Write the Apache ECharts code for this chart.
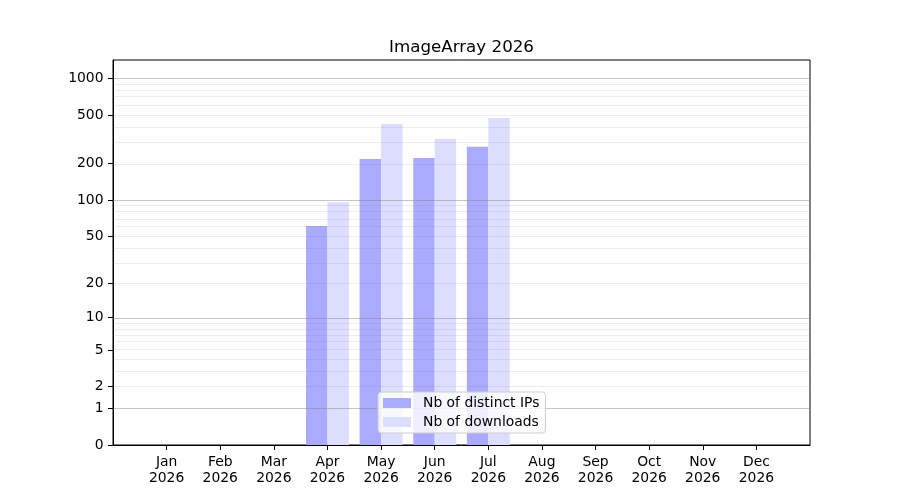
<!DOCTYPE html>
<html>
<head>
<meta charset="utf-8">
<script src="https://cdn.jsdelivr.net/npm/echarts@6/dist/echarts.min.js"></script>
<style>html,body{margin:0;padding:0;background:#fff}#c{width:900px;height:500px}</style>
</head>
<body>
<div id="c"></div>
<script>
const months = ['Jan','Feb','Mar','Apr','May','Jun','Jul','Aug','Sep','Oct','Nov','Dec'];
const year = '2026';
const distinctIPs = [0, 0, 0, 61, 218, 222, 274, 0, 0, 0, 0, 0];
const downloads   = [0, 0, 0, 96, 423, 319, 473, 0, 0, 0, 0, 0];
const yTickLabels = [0, 1, 2, 5, 10, 20, 50, 100, 200, 500, 1000];
const majorGrid = [1, 10, 100, 1000];
const minorGrid = [2,3,4,5,6,7,8,9,20,30,40,50,60,70,80,90,200,300,400,500,600,700,800,900];
const yMaxValue = 1412;

const tf = v => Math.log10(v + 1);
const cats = [''].concat(months.map(m => m + '\n' + year)).concat(['']);
const pad = arr => [null].concat(arr.map(tf)).concat([null]);
const FONT = 'DejaVu Sans';

const gridLines = majorGrid.map(v => ({yAxis: tf(v), lineStyle: {color: 'rgba(128,128,128,0.45)', width: 1, type: 'solid'}}))
  .concat(minorGrid.map(v => ({yAxis: tf(v), lineStyle: {color: 'rgba(128,128,128,0.15)', width: 1, type: 'solid'}})));

const chart = echarts.init(document.getElementById('c'), null, {renderer: 'canvas'});
chart.setOption({
  animation: false,
  textStyle: {fontFamily: FONT},
  title: {
    text: 'ImageArray 2026', left: 461.5, top: 39, textAlign: 'center', padding: 0,
    textStyle: {fontFamily: FONT, fontSize: 16.7, fontWeight: 'normal', color: '#000'}
  },
  grid: {left: 113, right: 90, top: 60, bottom: 55, show: true, borderColor: '#000', borderWidth: 1, backgroundColor: 'transparent'},
  legend: {
    data: ['Nb of distinct IPs', 'Nb of downloads'],
    orient: 'vertical', left: 378, top: 392,
    itemWidth: 28, itemHeight: 10, itemGap: 5, icon: 'rect',
    padding: [4, 6, 4, 5],
    backgroundColor: 'rgba(255,255,255,0.8)', borderColor: '#cccccc', borderWidth: 1, borderRadius: 3,
    textStyle: {fontFamily: FONT, fontSize: 13.9, color: '#000', padding: [0, 0, 0, 7]},
    z: 10
  },
  xAxis: {
    type: 'category', data: cats, boundaryGap: false,
    axisLine: {show: true, lineStyle: {color: '#000', width: 1}},
    axisTick: {show: true, length: 5, inside: false, interval: (i) => i > 0 && i < cats.length - 1, lineStyle: {color: '#000'}},
    axisLabel: {interval: (i) => i > 0 && i < cats.length - 1, fontFamily: FONT, fontSize: 13.9, color: '#000', lineHeight: 16, margin: 9},
    splitLine: {show: false}
  },
  yAxis: {
    type: 'value', min: 0, max: tf(yMaxValue),
    axisLine: {show: true, lineStyle: {color: '#000', width: 1}},
    axisTick: {show: true, length: 5, customValues: yTickLabels.map(tf), lineStyle: {color: '#000'}},
    axisLabel: {customValues: yTickLabels.map(tf), fontFamily: FONT, fontSize: 13.9, color: '#000', margin: 9.5,
      formatter: v => String(Math.round(Math.pow(10, v) - 1))},
    splitLine: {show: false}
  },
  series: [
    {name: 'Nb of distinct IPs', type: 'bar', data: pad(distinctIPs), barWidth: '40%', barGap: '0%',
      itemStyle: {color: '#aaaaff'}, z: 2},
    {name: 'Nb of downloads', type: 'bar', data: pad(downloads), barWidth: '40%', barGap: '0%',
      itemStyle: {color: '#ddddff'}, z: 2},
    {name: 'grid', type: 'line', data: [], z: 4, silent: true, symbol: 'none',
      markLine: {silent: true, symbol: ['none', 'none'], label: {show: false}, animation: false, data: gridLines}}
  ]
});
</script>
</body>
</html>
